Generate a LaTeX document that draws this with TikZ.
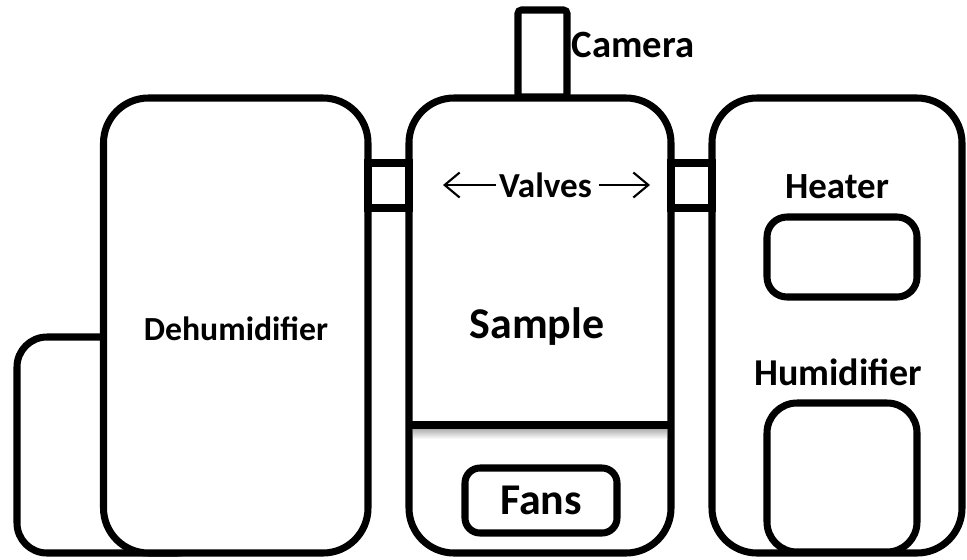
\documentclass[tikz,border=0pt]{standalone}
\usepackage{fontspec}
\setmainfont{Carlito}
\usetikzlibrary{arrows.meta}
\newcommand{\wallwidth}{2pt}
\newcommand{\chamberheight}{4.55cm}
\tikzstyle{part}=[draw, line width=\wallwidth, fill=white, inner sep=0, outer sep=0]
\tikzstyle{chamber}=[part, rounded corners=0.45cm, minimum height=\chamberheight]
\tikzstyle{valve}=[part, minimum width=0.41cm, minimum height=0.45cm]
\tikzstyle{tag}=[inner sep=0, outer sep=0, font=\bfseries\fontsize{10.5}{12}\selectfont]
\tikzstyle{pointer}=[line width=0.6pt, -{Straight Barb[length=0.15cm, width=0.25cm]}]

\begin{document}
\begin{tikzpicture}
    \useasboundingbox (0,0) rectangle (9.67,5.59);
    % water tank sits behind the dehumidifier
    \node[part, rounded corners=0.3cm, minimum width=1.9cm, minimum height=2.16cm] (tank) at (1.12,1.14) {};
    \node[chamber, minimum width=2.645cm] (dehum) at (2.3575,2.335) {};
    \node[part, rounded corners=1pt, minimum width=0.49cm, minimum height=0.87cm] (camera) at (5.425,5.055) {};
    \node[chamber, minimum width=2.62cm] (sample) at (5.40,2.335) {};
    \node[chamber, minimum width=2.50cm] (climate) at (8.37,2.335) {};
    \node[valve] (valveL) at (3.885,3.735) {};
    \node[valve] (valveR) at (6.915,3.735) {};

    % fan compartment under the sample
    \coordinate (divL) at (4.09,1.34);
    \coordinate (divR) at (6.71,1.34);
    \shade[top color=black!40, bottom color=white] (4.13,1.33) rectangle (6.67,1.20);
    \draw[line width=\wallwidth] (divL) -- (divR);
    \node[part, rounded corners=0.15cm, minimum width=1.52cm, minimum height=0.65cm,
          font=\bfseries\fontsize{12.5}{14}\selectfont] (fans) at (5.41,0.585) {Fans};

    % heater and humidifier units
    \node[part, rounded corners=0.2cm, minimum width=1.50cm, minimum height=0.80cm] (heater) at (8.42,3.02) {};
    \node[part, rounded corners=0.3cm, minimum width=1.50cm, minimum height=1.49cm] (humid) at (8.42,0.815) {};

    % labels
    \node[tag, font=\fontsize{11}{13}\selectfont\bfseries] (cameraL) at (6.33,5.14) {Camera};
    \node[tag, font=\fontsize{10}{12}\selectfont\bfseries] (valves) at (5.455,3.74) {Valves};
    \coordinate (valvesW) at (4.43,3.74);
    \coordinate (valvesE) at (6.50,3.74);
    \draw[pointer] (valves.west) ++(-0.03,0) -- (valvesW);
    \draw[pointer] (valves.east) ++(0.07,0) -- (valvesE);
    \node[tag, font=\fontsize{9.6}{12}\selectfont\bfseries] (dehumL) at (2.36,2.30) {Dehumidifier};
    \node[tag, font=\fontsize{12.5}{14}\selectfont\bfseries] (sampleL) at (5.37,2.32) {Sample};
    \node[tag] (heaterL) at (8.37,3.72) {Heater};
    \node[tag, font=\fontsize{10.8}{12}\selectfont\bfseries] (humidL) at (8.38,1.87) {Humidifier};
\end{tikzpicture}
\end{document}
